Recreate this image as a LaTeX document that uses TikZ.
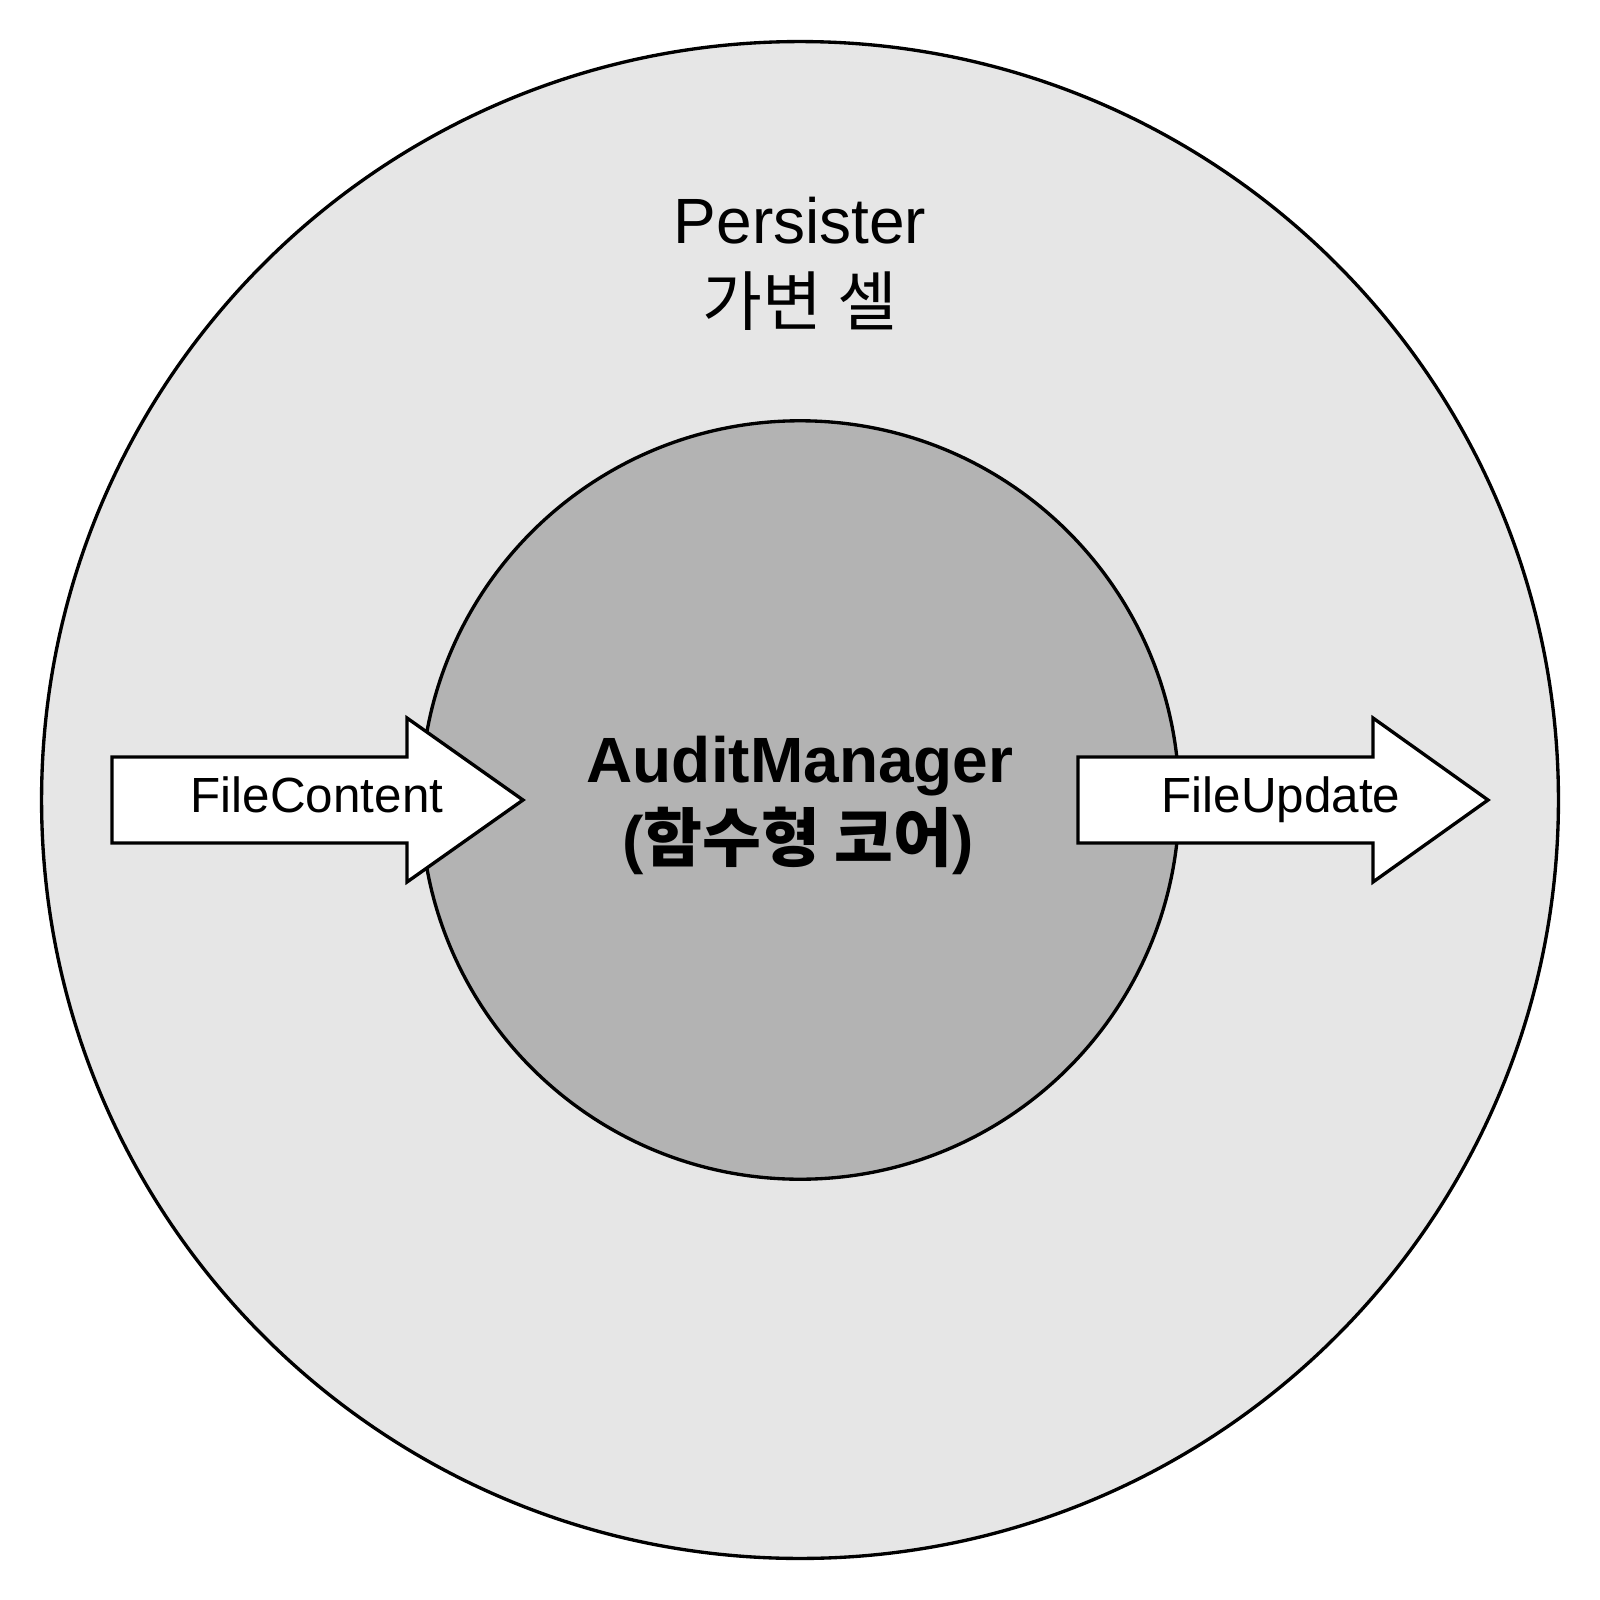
\documentclass[tikz,border=0pt]{standalone}
\usepackage{fontspec}
\setmainfont{Liberation Sans}
\newfontfamily\kr{Noto Sans CJK KR}
\begin{document}
\begin{tikzpicture}[x=0.01cm,y=-0.01cm,
  ring/.style={circle,draw=black,line width=0.95pt,inner sep=0pt},
  flowarrow/.style={draw=black,fill=white,line width=0.95pt,line join=miter},
  lbl/.style={inner sep=0pt,anchor=base,font=\fontsize{14.05}{16}\selectfont},
  big/.style={inner sep=0pt,anchor=base,font=\fontsize{18.2}{21}\selectfont}]
\useasboundingbox[fill=white] (0,0) rectangle (1600,1600);
\node[ring,fill={rgb,255:red,230;green,230;blue,230},minimum size=15.16cm] (outer) at (800,800) {};
\node[ring,fill={rgb,255:red,179;green,179;blue,179},minimum size=7.58cm] (inner) at (800,800) {};
% left arrow
\draw[flowarrow] (112,757) -- (407,757) -- (407,718) -- (523,800) -- (407,882) -- (407,843) -- (112,843) -- cycle;
% right arrow
\draw[flowarrow] (1078,757) -- (1373,757) -- (1373,718) -- (1488,800) -- (1373,882) -- (1373,843) -- (1078,843) -- cycle;
\node[lbl] (fc) at (317,812) {FileContent};
\node[lbl] (fu) at (1281,812) {FileUpdate};
\node[big] (pers) at (800,243) {Persister};
\node[big,font=\fontsize{18.5}{21}\selectfont] (mut) at (800,325) {\kr 가변 셀};
\node[big,font=\fontsize{18.2}{21}\selectfont\bfseries] (am) at (800,782) {AuditManager};
\node[big,font=\fontsize{18.2}{21}\selectfont\bfseries] (core) at (798,861) {(\kr 함수형 코어\normalfont\bfseries)};
\end{tikzpicture}
\end{document}
